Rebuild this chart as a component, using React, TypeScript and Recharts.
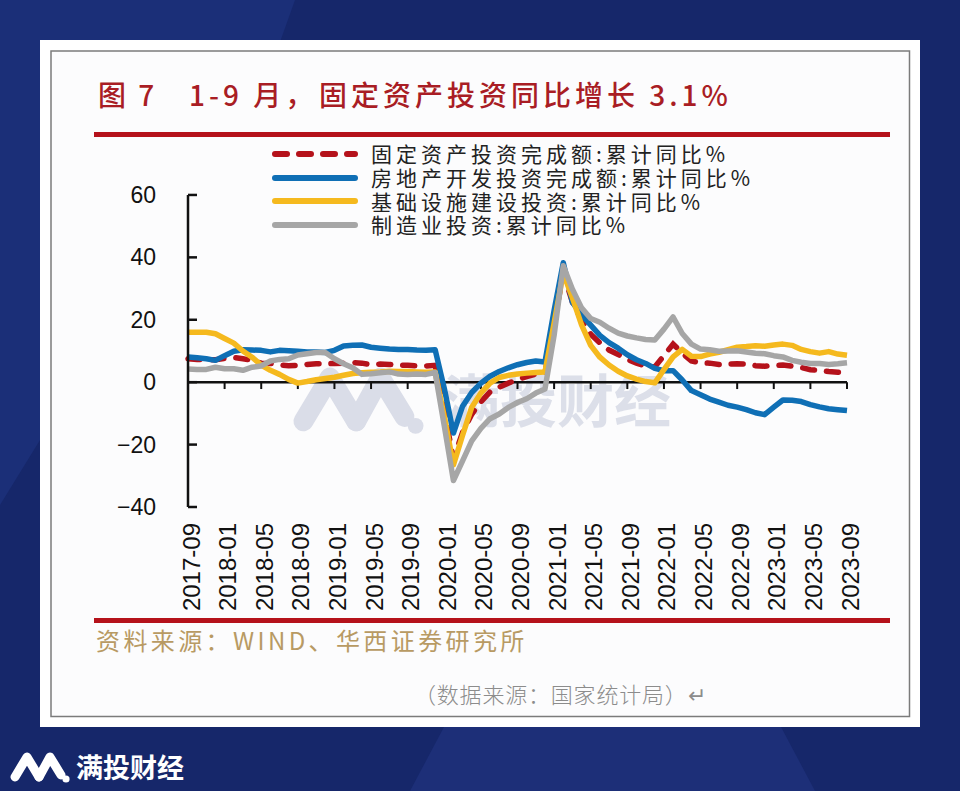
import React from 'react';
import { LineChart, Line, XAxis, YAxis, Legend, ReferenceLine } from 'recharts';

const months = [
  '2017-09','2017-10','2017-11','2017-12',
  '2018-01','2018-02','2018-03','2018-04','2018-05','2018-06','2018-07','2018-08','2018-09','2018-10','2018-11','2018-12',
  '2019-01','2019-02','2019-03','2019-04','2019-05','2019-06','2019-07','2019-08','2019-09','2019-10','2019-11','2019-12',
  '2020-01','2020-02','2020-03','2020-04','2020-05','2020-06','2020-07','2020-08','2020-09','2020-10','2020-11','2020-12',
  '2021-01','2021-02','2021-03','2021-04','2021-05','2021-06','2021-07','2021-08','2021-09','2021-10','2021-11','2021-12',
  '2022-01','2022-02','2022-03','2022-04','2022-05','2022-06','2022-07','2022-08','2022-09','2022-10','2022-11','2022-12',
  '2023-01','2023-02','2023-03','2023-04','2023-05','2023-06','2023-07','2023-08','2023-09',
];
const fixedAsset = [
  7.5,7.3,7.2,7.2,
  7.6,7.9,7.5,7.0,6.1,6.0,5.5,5.3,5.4,5.7,5.9,5.9,
  6.0,6.1,6.3,6.1,5.6,5.8,5.7,5.5,5.4,5.2,5.2,5.4,
  -9.5,-24.5,-16.1,-10.3,-6.3,-3.1,-1.6,-0.3,0.8,1.8,2.6,2.9,
  19,35,25.6,19.9,15.4,12.6,10.3,8.9,7.3,6.1,5.2,4.9,
  8.5,12.2,9.3,6.8,6.2,6.1,5.7,5.8,5.9,5.8,5.3,5.1,
  5.3,5.5,5.1,4.7,4.0,3.8,3.4,3.2,3.1,
];
const realEstate = [
  8.1,7.8,7.5,7.0,
  8.5,9.9,10.4,10.3,10.2,9.7,10.2,10.1,9.9,9.7,9.7,9.5,
  10.2,11.6,11.8,11.9,11.2,10.9,10.6,10.5,10.5,10.3,10.2,10.4,
  -2,-16.3,-7.7,-3.3,-0.3,1.9,3.4,4.6,5.6,6.3,6.8,6.5,
  23,38.3,25.6,21.6,18.3,15.0,12.7,10.9,8.8,7.2,6.0,4.4,
  3.7,3.7,0.7,-2.7,-4.0,-5.4,-6.4,-7.4,-8.0,-8.8,-9.8,-10.4,
  -8,-5.7,-5.8,-6.2,-7.2,-7.9,-8.5,-8.8,-9.1,
];
const infrastructure = [
  16,16,16,15.5,
  14,12.5,10,8,5.5,3.8,2.5,0.9,-0.3,0.2,0.8,1.2,
  1.6,2.2,2.8,3.0,3.2,3.3,3.5,3.4,3.4,3.3,3.2,3.3,
  -11,-26.5,-17,-8,-3.5,-0.3,1.5,2.2,2.6,2.9,3.1,3.3,
  19,35,27,18.4,11.8,8,5.5,3.5,2,1,0.2,-0.2,
  4,8.1,10.5,8.3,8.2,9,9.6,10.4,11.2,11.4,11.7,11.5,
  11.9,12.2,11.8,10.5,9.8,9.3,9.8,9.0,8.6,
];
const manufacturing = [
  4.2,4.1,4.1,4.8,
  4.3,4.3,3.8,4.8,5.2,6.8,7.3,7.5,8.7,9.1,9.5,9.5,
  7.5,5.9,4.6,2.5,2.7,3.0,3.3,2.6,2.5,2.6,2.5,3.1,
  -14,-31.5,-25.2,-18.8,-14.8,-11.7,-10.2,-8.1,-6.5,-5.3,-3.5,-2.2,
  15,37.3,29.8,23.8,20.4,19.2,17.3,15.7,14.8,14.2,13.7,13.5,
  17,20.9,15.6,12.2,10.6,10.4,9.9,10.0,10.1,9.7,9.3,9.1,
  8.5,8.1,7.0,6.4,6.0,6.0,5.7,5.9,6.2,
];
const yTicks = [-40, -20, 0, 20, 40, 60];
const seriesNames = [
  '固定资产投资完成额:累计同比%',
  '房地产开发投资完成额:累计同比%',
  '基础设施建设投资:累计同比%',
  '制造业投资:累计同比%',
];
const titleParts = ['图 7', '1-9 月，', '固定资产投资同比增长 3.1%'];
const sourceText = '资料来源：WIND、华西证券研究所';
const dataSourceText = '（数据来源：国家统计局）↵';
const brandName = '满投财经';

const rows = months.map((m, i) => ({
  month: m,
  fixedAsset: fixedAsset[i],
  realEstate: realEstate[i],
  infrastructure: infrastructure[i],
  manufacturing: manufacturing[i],
}));
const tickMonths = months.filter((_, i) => i % 4 === 0);

const CJK = '"Noto Sans CJK SC", "Noto Sans", sans-serif';
const LATIN = '"Liberation Sans", Arial, sans-serif';
const RED = '#b5121b';

function XTick({ x, y, payload }: any) {
  return (
    <text
      transform={`rotate(-90 ${x + 3} ${y})`}
      x={x + 3}
      y={y}
      textAnchor="end"
      dominantBaseline="central"
      fontFamily={LATIN}
      fontSize={24}
      fill="#111"
    >
      {payload.value}
    </text>
  );
}

function YTick({ x, y, payload }: any) {
  const v = payload.value as number;
  return (
    <g>
      <line x1={x} x2={x + 9} y1={y} y2={y} stroke="#111" strokeWidth={2.5} />
      <text x={x - 32} y={y} textAnchor="end" dominantBaseline="central" fontFamily={LATIN} fontSize={23} fill="#111">
        {v < 0 ? `\u2212${Math.abs(v)}` : v}
      </text>
    </g>
  );
}

function LegendBox({ payload }: any) {
  return (
    <div style={{ display: 'flex', flexDirection: 'column' }}>
      {(payload || []).map((p: any) => (
        <div key={p.value} style={{ display: 'flex', alignItems: 'center', height: 23.7 }}>
          <svg width={88} height={12} style={{ marginRight: 12, flex: 'none' }}>
            <line
              x1={4}
              x2={84}
              y1={6}
              y2={6}
              stroke={p.color}
              strokeWidth={6}
              strokeLinecap="round"
              strokeDasharray={p.payload?.strokeDasharray}
            />
          </svg>
          <div style={{ fontFamily: CJK, fontSize: 21, letterSpacing: 4, color: '#222', whiteSpace: 'nowrap', lineHeight: '23px', height: 23 }}>
            {p.value}
          </div>
        </div>
      ))}
    </div>
  );
}

function Mark({ fill, tx, ty, s }: { fill: string; tx: number; ty: number; s: number }) {
  return (
    <g transform={`translate(${tx} ${ty}) scale(${s})`}>
      <polyline points="7,27 19,7 31,27" fill="none" stroke={fill} strokeWidth={9} strokeLinecap="round" strokeLinejoin="round" />
      <polyline points="31,27 42,7 53,25" fill="none" stroke={fill} strokeWidth={9} strokeLinecap="round" strokeLinejoin="round" />
      <circle cx={58} cy={29} r={3.6} fill={fill} />
    </g>
  );
}

const Abs = ({ x, y, children, style }: any) => (
  <div style={{ position: 'absolute', left: x, top: y, whiteSpace: 'pre', lineHeight: 1, ...style }}>{children}</div>
);

export default function App() {
  return (
    <div style={{ position: 'fixed', left: 0, top: 0, width: 960, height: 791, overflow: 'hidden', background: '#16276a' }}>
      <svg width={960} height={791} style={{ position: 'absolute', left: 0, top: 0 }}>
        <polygon points="0,0 295,0 270,70 40,440 0,505" fill="#1b2f78" />
        <polygon points="444,727 781,727 815,791 410,791" fill="#1d2f78" />
        <rect x={40} y={40} width={880} height={687} fill="#ffffff" />
        <rect x={51} y={51} width={858.5} height={665.5} fill="#fcfcfd" stroke="#7b7b7b" strokeWidth={1.5} />
        <rect x={94} y={132} width={796} height={5} fill={RED} />
        <rect x={94} y={618} width={796} height={5} fill={RED} />
        <Mark fill="#dadde8" tx={288} ty={362} s={2.2} />
        <Mark fill="#ffffff" tx={8} ty={750} s={1} />
      </svg>

      <Abs x={443} y={369} style={{ fontFamily: CJK, fontWeight: 700, fontSize: 57, color: '#dcdfe9' }}>{brandName}</Abs>

      <Abs x={98} y={80} style={{ fontFamily: CJK, fontSize: 28, fontWeight: 500, letterSpacing: 3, color: '#a91d24' }}>{titleParts[0]}</Abs>
      <Abs x={189} y={80} style={{ fontFamily: CJK, fontSize: 28, fontWeight: 500, letterSpacing: 4, color: '#a91d24' }}>{titleParts[1]}</Abs>
      <Abs x={319} y={80} style={{ fontFamily: CJK, fontSize: 28, fontWeight: 500, letterSpacing: 4, color: '#a91d24' }}>{titleParts[2]}</Abs>

      <Abs x={96} y={628} style={{ fontFamily: CJK, fontSize: 24, letterSpacing: 3.4, color: '#b89a63' }}>{sourceText}</Abs>
      <Abs x={414} y={682} style={{ fontFamily: CJK, fontSize: 22, fontWeight: 300, letterSpacing: 0.8, color: '#8c8c8c' }}>{dataSourceText}</Abs>
      <Abs x={76} y={753} style={{ fontFamily: CJK, fontSize: 27, fontWeight: 700, color: '#ffffff' }}>{brandName}</Abs>

      <div style={{ position: 'absolute', left: 0, top: 0 }}>
        <LineChart
          width={960}
          height={791}
          data={rows}
          margin={{ top: 100.2, right: 113, bottom: 174, left: 128 }}
        >
          <XAxis
            dataKey="month"
            interval={3}
            height={110}
            axisLine={false}
            tickLine={false}
            tickSize={0}
            tickMargin={16}
            tick={<XTick />}
            padding={{ left: 0, right: 0 }}
            scale="point"
          />
          <YAxis
            width={60}
            domain={[-40, 60]}
            ticks={yTicks}
            interval={0}
            axisLine={{ stroke: '#111', strokeWidth: 2.5 }}
            tickLine={false}
            tickSize={0}
            tickMargin={0}
            tick={<YTick />}
          />
          <Legend
            layout="vertical"
            align="center"
            verticalAlign="top"
            itemSorter={null}
            wrapperStyle={{ position: 'absolute', left: 271, top: 142, width: 520 }}
            content={<LegendBox />}
          />
          <ReferenceLine y={0} stroke="#111" strokeWidth={2.5} />
          {tickMonths.map((m) => (
            <ReferenceLine
              key={m}
              segment={[{ x: m, y: 0 }, { x: m, y: -2.2 }]}
              stroke="#111"
              strokeWidth={2}
            />
          ))}
          <Line name={seriesNames[0]} dataKey="fixedAsset" stroke={RED} strokeWidth={5.5} strokeDasharray="12 12" strokeLinecap="round" dot={false} isAnimationActive={false} />
          <Line name={seriesNames[1]} dataKey="realEstate" stroke="#0f6fb5" strokeWidth={5.5} strokeLinejoin="round" dot={false} isAnimationActive={false} />
          <Line name={seriesNames[2]} dataKey="infrastructure" stroke="#f5b91e" strokeWidth={5.5} strokeLinejoin="round" dot={false} isAnimationActive={false} />
          <Line name={seriesNames[3]} dataKey="manufacturing" stroke="#a6a6a6" strokeWidth={5.5} strokeLinejoin="round" dot={false} isAnimationActive={false} />
        </LineChart>
      </div>
    </div>
  );
}
